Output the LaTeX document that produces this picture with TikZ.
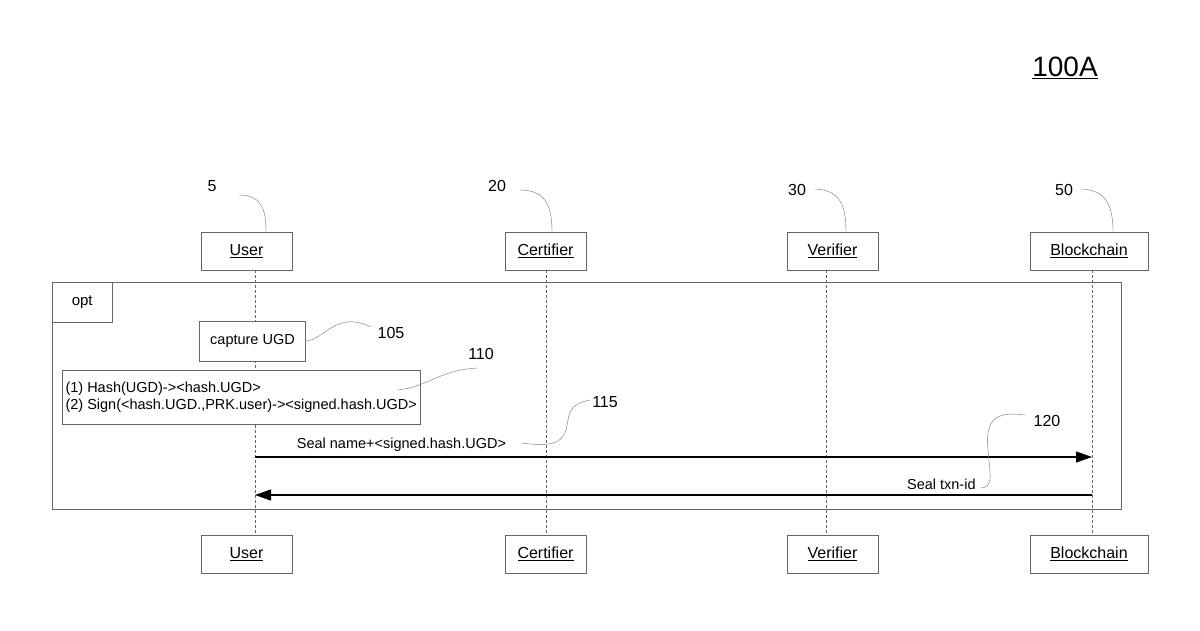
\documentclass[tikz,border=0pt]{standalone}
\usepackage{fontspec}
\setmainfont{Liberation Sans}
\usetikzlibrary{arrows.meta}
\tikzset{
  actor/.style={draw=black!60, thin, minimum height=38pt, inner xsep=6pt, font=\fontsize{16}{18}\selectfont},
  action/.style={draw=black!60, thin, align=left, font=\fontsize{14.5}{17}\selectfont},
  life/.style={black!60, thin, dash pattern=on 3pt off 2pt},
  lead/.style={black!55, thin},
  refnum/.style={font=\fontsize{16}{18}\selectfont},
  msg/.style={very thick, -{Triangle[length=16pt,width=11pt]}},
}
\begin{document}
\begin{tikzpicture}[x=1pt,y=-1pt]
      \useasboundingbox (0,0) rectangle (1200,630);
      \node[font=\fontsize{28}{30}\selectfont] (fig) at (1065,68) {\underline{100A}};
      % actors on top and bottom
      \foreach \n/\t/\x/\w in {u/User/246.5/91, c/Certifier/545.5/81, v/Verifier/832.5/91, b/Blockchain/1089/118} {
        \node[actor, minimum width=\w pt] (\n top) at (\x,251) {\underline{\t}};
        \node[actor, minimum width=\w pt] (\n bot) at (\x,554) {\underline{\t}};
      }
      \coordinate (ul) at (255,270); \coordinate (ue) at (255,535);
      \coordinate (cl) at (546,270); \coordinate (ce) at (546,535);
      \coordinate (vl) at (826,270); \coordinate (ve) at (826,535);
      \coordinate (bl) at (1092,270); \coordinate (be) at (1092,535);
      \foreach \n in {u,c,v,b} \draw[life] (\n l) -- (\n e);
      % opt frame
      \draw[black!60, thin] (52,282) rectangle (1121,509);
      \node[draw=black!60, thin, minimum width=60pt, minimum height=40pt, anchor=north west,
            font=\fontsize{15}{17}\selectfont, fill=white] (opt) at (52,282) {opt};
      \draw[black!60, thin] (52,509) -- (52,282) -- (1121,282);
      % actions
      \node[action, fill=white, minimum width=106pt, minimum height=40pt] (cap) at (252.5,341) {capture UGD};
      \node[action, fill=white, minimum width=335pt, minimum height=54pt, anchor=west] (hs) at (62,397)
        {(1) Hash(UGD)->{}<hash.UGD>\\(2) Sign(<hash.UGD.,PRK.user)->{}<signed.hash.UGD>};
      \coordinate (ma) at (255,457); \coordinate (mb) at (1092,457);
      \coordinate (ra) at (1092,495); \coordinate (rb) at (255,495);
      \draw[msg] (ma) -- (mb) node[pos=0.175, above=2pt, font=\fontsize{14.5}{17}\selectfont] (m1) {Seal name+<signed.hash.UGD>};
      \draw[msg] (ra) -- (rb) node[pos=0.18, above=1pt, font=\fontsize{14.5}{17}\selectfont] (m2) {Seal txn-id};
      % reference numbers
      \node[refnum] (n5) at (212,186) {5};
      \node[refnum] (n20) at (497,186) {20};
      \node[refnum] (n30) at (797,190) {30};
      \node[refnum] (n50) at (1064,190) {50};
      \node[refnum] (n105) at (391,333) {105};
      \node[refnum] (n110) at (481,354) {110};
      \node[refnum] (n115) at (605,402) {115};
      \node[refnum] (n120) at (1047,421) {120};
      \draw[lead] (239,195) .. controls (262,195) and (266,210) .. (266,232);
      \draw[lead] (520,190) .. controls (545,190) and (552,205) .. (552,232);
      \draw[lead] (815,189) .. controls (840,190) and (846,205) .. (846,232);
      \draw[lead] (1081,189) .. controls (1106,190) and (1113,205) .. (1113,232);
      \draw[lead] (cap.east) .. controls (325,340) and (335,310) .. (371,327);
      \draw[lead] (397,390) .. controls (425,388) and (440,370) .. (477,368);
      \draw[lead] (521,443) .. controls (560,448) and (565,440) .. (568,420) .. controls (570,405) and (580,402) .. (590,400);
      \draw[lead] (1025,415) .. controls (990,410) and (986,425) .. (988,450) .. controls (990,475) and (994,488) .. (980,488);
    \end{tikzpicture}
\end{document}
